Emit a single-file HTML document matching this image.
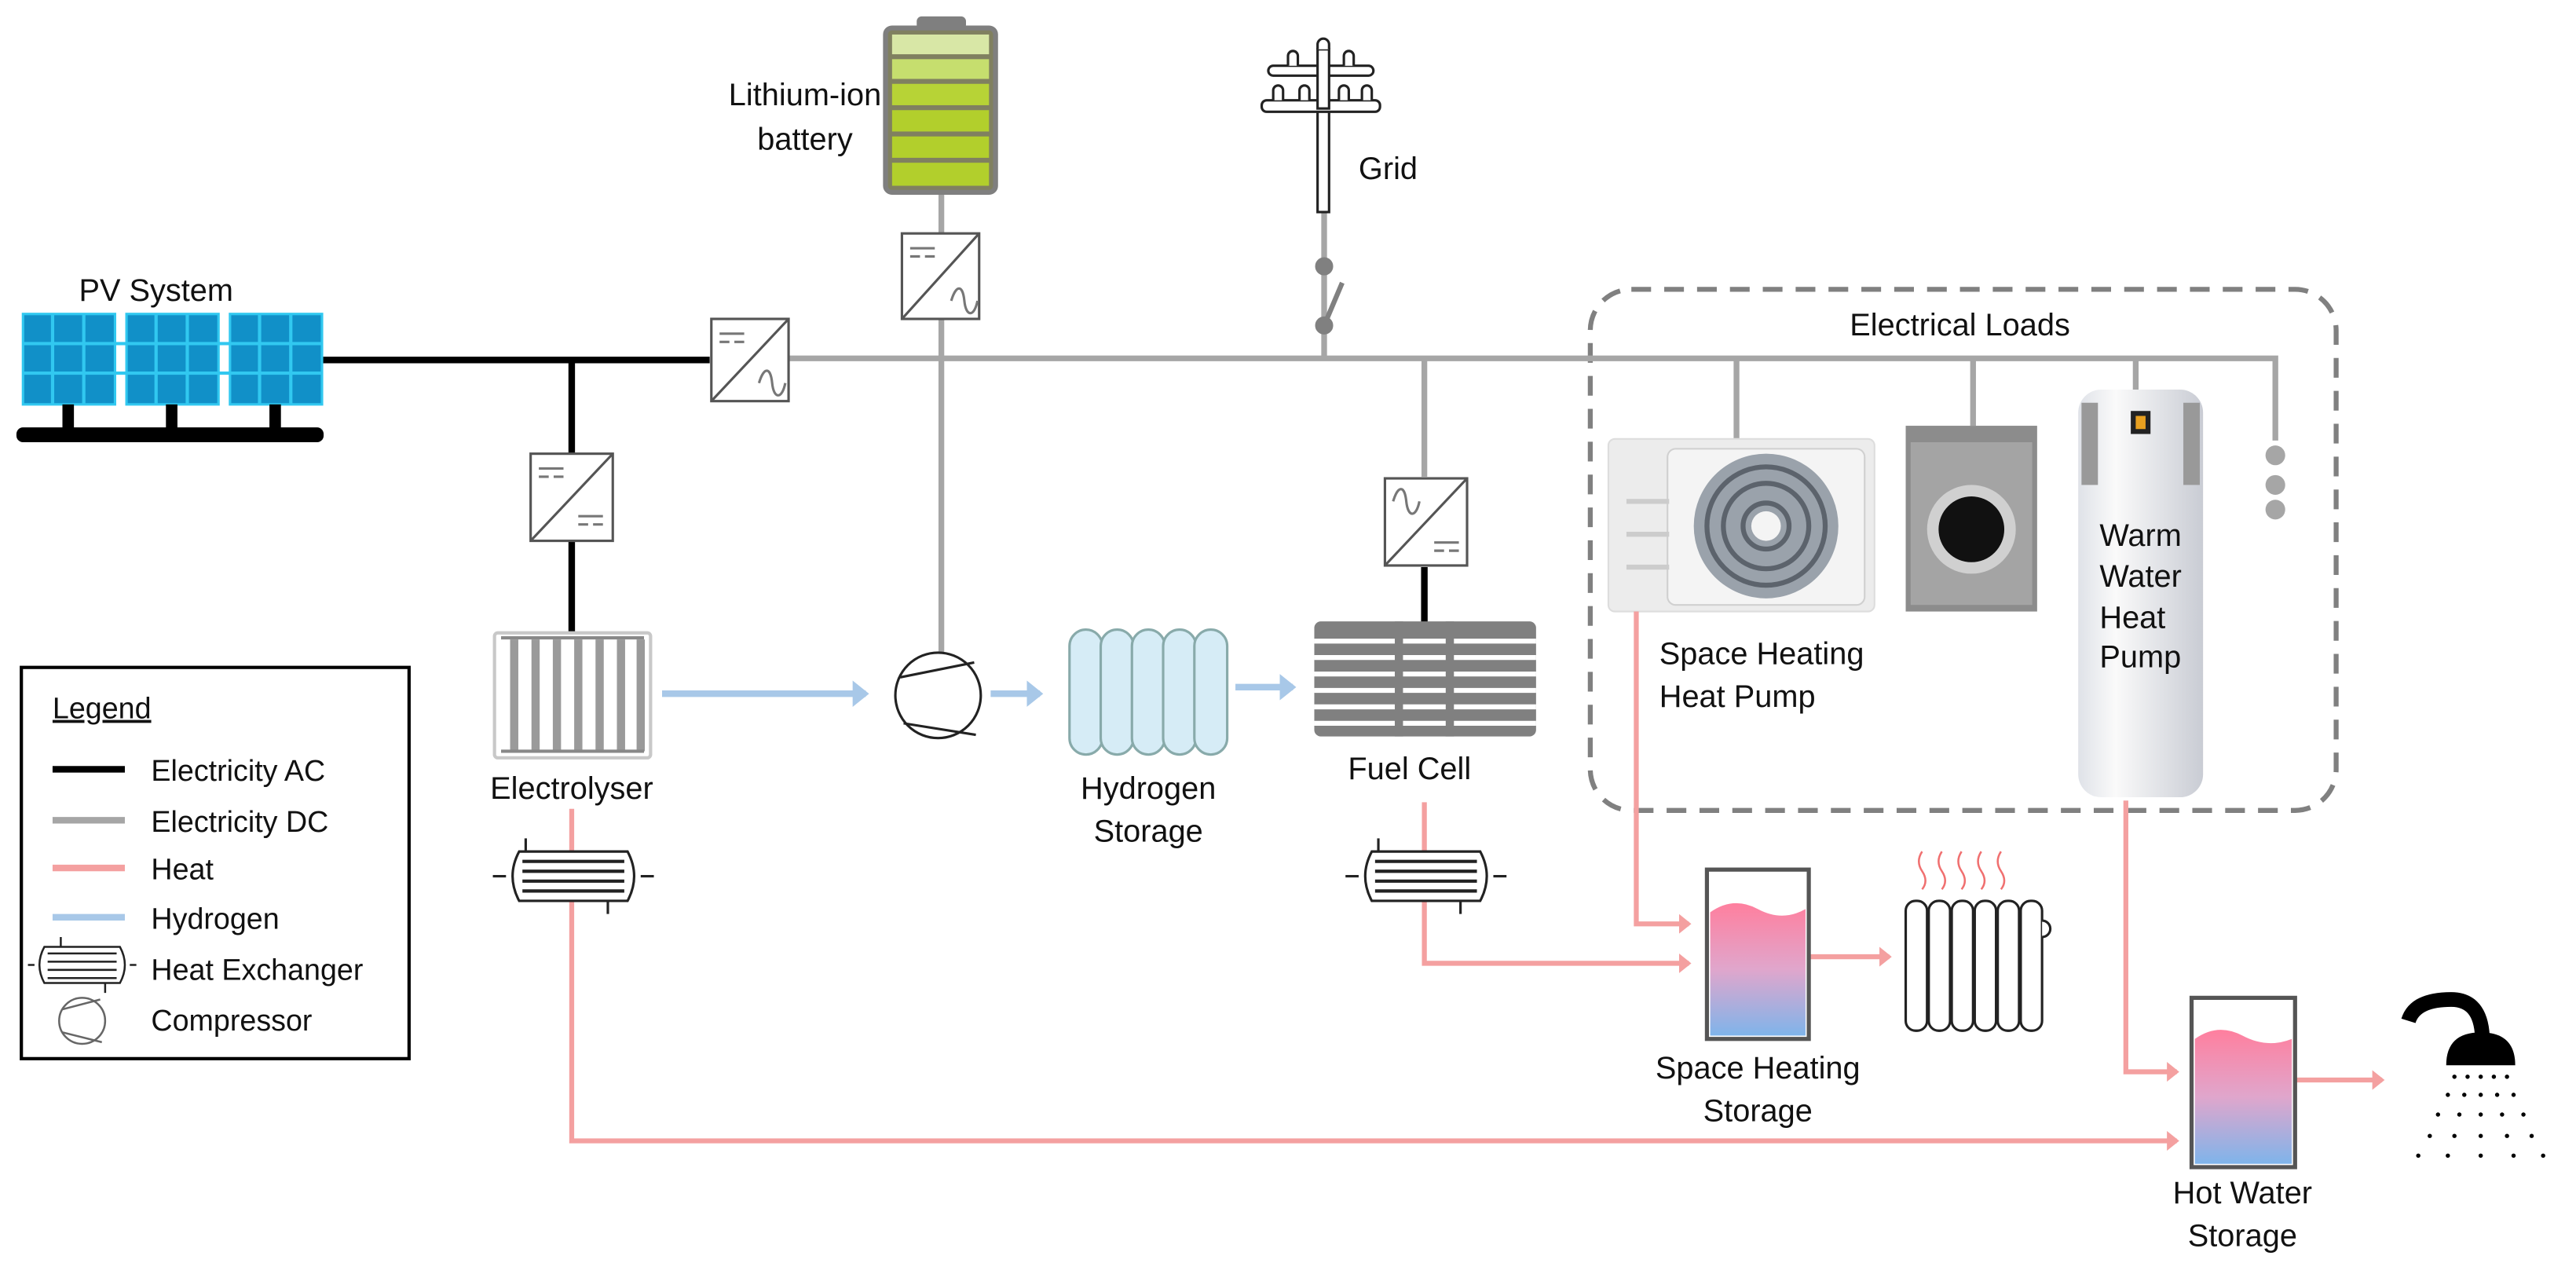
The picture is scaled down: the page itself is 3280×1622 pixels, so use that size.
<!DOCTYPE html>
<html><head><meta charset="utf-8"><style>
html,body{margin:0;padding:0;background:#fff}
svg{display:block}
text{font-family:"Liberation Sans",sans-serif;fill:#111}
</style></head><body>
<svg width="3280" height="1622" viewBox="0 0 1568 775" preserveAspectRatio="none" xmlns="http://www.w3.org/2000/svg">
<defs>
<linearGradient id="tank" x1="0" y1="0" x2="0" y2="1"><stop offset="0" stop-color="#ff7f9e"/><stop offset="0.5" stop-color="#e0a6cc"/><stop offset="1" stop-color="#7fb4ea"/></linearGradient>
<linearGradient id="heater" x1="0" y1="0" x2="1" y2="0"><stop offset="0" stop-color="#dfe2e8"/><stop offset="0.3" stop-color="#fafafa"/><stop offset="1" stop-color="#c9ccd4"/></linearGradient>
<marker id="hA" markerWidth="4" markerHeight="4" refX="2" refY="2" orient="auto" markerUnits="strokeWidth"><path d="M0,0 L2.5,2 L0,4 Z" fill="#f4a0a0"/></marker>
<marker id="bA" markerWidth="4" markerHeight="4" refX="2" refY="2" orient="auto" markerUnits="strokeWidth"><path d="M0,0 L2.5,2 L0,4 Z" fill="#a8c8e8"/></marker>
</defs>

<!-- dashed box -->
<rect x="968" y="176" width="454" height="317" rx="25" fill="none" stroke="#808080" stroke-width="3" stroke-dasharray="12,8"/>
<text x="1193" y="204" font-size="19" text-anchor="middle">Electrical Loads</text>

<!-- DC bus -->
<g stroke="#a6a6a6" stroke-width="3.5" fill="none">
<path d="M480 218 H1385 V268"/>
<path d="M573 117 V400"/>
<path d="M806 129 V218"/>
<path d="M867 218 V290"/>
<path d="M1057 218 V267"/>
<path d="M1201 218 V259"/>
<path d="M1300 218 V238"/>
</g>
<circle cx="1385" cy="277" r="6" fill="#a6a6a6"/><circle cx="1385" cy="295" r="6" fill="#a6a6a6"/><circle cx="1385" cy="310" r="6" fill="#a6a6a6"/>
<!-- switch -->
<g stroke="#808080" fill="#808080"><circle cx="806" cy="162" r="5"/><line x1="806" y1="198" x2="817" y2="172" stroke-width="3"/><circle cx="806" cy="198" r="5"/></g>

<!-- AC lines -->
<g stroke="#000" stroke-width="4" fill="none">
<path d="M190 219 H432"/><path d="M348 219 V276"/><path d="M348 329 V385"/><path d="M867 345 V380"/>
</g>

<!-- PV -->
<g fill="#1190c8" stroke="#31c8f0" stroke-width="1.5">
<rect x="14" y="191" width="56" height="55"/><rect x="77" y="191" width="56" height="55"/><rect x="140" y="191" width="56" height="55"/>
</g>
<g stroke="#31c8f0" stroke-width="2">
<path d="M32 191V246M51 191V246M95 191V246M114 191V246M158 191V246M177 191V246M14 209H196M14 227H196"/>
</g>
<g fill="#000"><rect x="38" y="246" width="7" height="15"/><rect x="101" y="246" width="7" height="15"/><rect x="164" y="246" width="7" height="15"/><rect x="10" y="260" width="187" height="9" rx="4"/></g>
<text x="95" y="183" font-size="19" text-anchor="middle">PV System</text>

<!-- converters -->
<g fill="#fff" stroke="#555" stroke-width="1.5">
<rect x="433" y="194" width="47" height="50"/><line x1="433" y1="244" x2="480" y2="194"/>
<rect x="549" y="142" width="47" height="52"/><line x1="549" y1="194" x2="596" y2="142"/>
<rect x="323" y="276" width="50" height="53"/><line x1="323" y1="329" x2="373" y2="276"/>
<rect x="843" y="291" width="50" height="53"/><line x1="843" y1="344" x2="893" y2="291"/>
</g>
<g stroke="#777" stroke-width="1.5" fill="none">
<path d="M438 203h15M438 208h6M447 208h6M462 233c3-10 7-10 8 0s6 10 8 0"/>
<path d="M554 151h15M554 156h6M563 156h6M579 183c3-10 7-10 8 0s6 10 8 0"/>
<path d="M328 285h15M328 290h6M337 290h6M352 314h15M352 319h6M361 319h6"/>
<path d="M848 305c3-10 7-10 8 0s6 10 8 0M873 330h15M873 335h6M882 335h6"/>
</g>

<!-- battery -->
<rect x="558" y="10" width="30" height="8" rx="3" fill="#7f7f7f"/>
<rect x="539" y="17" width="67" height="100" rx="4" fill="#808060" stroke="#7f7f7f" stroke-width="3"/>
<rect x="543" y="21" width="59" height="12" fill="#d8e7a6"/>
<rect x="543" y="36" width="59" height="12" fill="#c6de6e"/>
<rect x="543" y="51" width="59" height="13" fill="#b7d336"/>
<rect x="543" y="67" width="59" height="13" fill="#b2cf2c"/>
<rect x="543" y="83" width="59" height="13" fill="#b2cf2c"/>
<rect x="543" y="99" width="59" height="14" fill="#b2cf2c"/>
<text x="490" y="64" font-size="19" text-anchor="middle">Lithium-ion</text>
<text x="490" y="91" font-size="19" text-anchor="middle">battery</text>

<!-- grid pole -->
<g fill="#fff" stroke="#222" stroke-width="1.5">
<rect x="802" y="66" width="7" height="63"/>
<rect x="768" y="61" width="72" height="7" rx="3"/>
<rect x="772" y="40" width="64" height="6" rx="3"/>
<rect x="802" y="30" width="7" height="36"/>
<path d="M802 30 v-3 a3.5 3.5 0 0 1 7 0 v3"/>
<path d="M784 40v-6a3 3 0 0 1 6 0v6M818 40v-6a3 3 0 0 1 6 0v6M775 61v-6a3 3 0 0 1 6 0v6M791 61v-6a3 3 0 0 1 6 0v6M815 61v-6a3 3 0 0 1 6 0v6M829 61v-6a3 3 0 0 1 6 0v6"/>
</g>
<text x="827" y="109" font-size="19">Grid</text>

<!-- hydrogen -->
<g stroke="#a8c8e8" stroke-width="4" fill="none">
<line x1="403" y1="422" x2="527" y2="422" marker-end="url(#bA)"/>
<line x1="603" y1="422" x2="633" y2="422" marker-end="url(#bA)"/>
<line x1="752" y1="418" x2="787" y2="418" marker-end="url(#bA)"/>
</g>
<!-- electrolyser -->
<rect x="301" y="385" width="95" height="76" rx="2" fill="#fff" stroke="#c8c8c8" stroke-width="2"/>
<g stroke="#9a9a9a" stroke-width="5"><path d="M313 389v68M326 389v68M339 389v68M352 389v68M365 389v68M378 389v68M390 389v68"/></g>
<path d="M305 388H392M305 457H392" stroke="#888" stroke-width="2"/>
<text x="348" y="486" font-size="19" text-anchor="middle">Electrolyser</text>
<!-- compressor -->
<circle cx="571" cy="423" r="26" fill="#fff" stroke="#222" stroke-width="1.5"/>
<path d="M548 412 L593 403 M550 440 L594 447" stroke="#222" stroke-width="1.5"/>
<!-- tanks -->
<g fill="#d6ecf6" stroke="#8aa" stroke-width="1.5">
<rect x="651" y="383" width="20" height="76" rx="10"/><rect x="670" y="383" width="20" height="76" rx="10"/><rect x="689" y="383" width="20" height="76" rx="10"/><rect x="708" y="383" width="20" height="76" rx="10"/><rect x="727" y="383" width="20" height="76" rx="10"/>
</g>
<text x="699" y="486" font-size="19" text-anchor="middle">Hydrogen</text>
<text x="699" y="512" font-size="19" text-anchor="middle">Storage</text>
<!-- fuel cell -->
<rect x="800" y="378" width="135" height="70" rx="4" fill="#808080"/>
<g stroke="#fff" stroke-width="3"><path d="M800 390H935M800 400H935M800 410H935M800 420H935M800 430H935M800 440H935"/></g>
<rect x="849" y="378" width="5" height="70" fill="#808080"/><rect x="880" y="378" width="5" height="70" fill="#808080"/>
<text x="858" y="474" font-size="19" text-anchor="middle">Fuel Cell</text>

<!-- AC unit -->
<rect x="979" y="267" width="162" height="105" rx="4" fill="#ececec" stroke="#ddd"/>
<rect x="1015" y="273" width="120" height="95" rx="5" fill="#f4f4f4" stroke="#d0d0d0"/>
<circle cx="1075" cy="320" r="44" fill="#9aa2ab"/>
<circle cx="1075" cy="320" r="36" fill="none" stroke="#5c636c" stroke-width="3"/>
<circle cx="1075" cy="320" r="26" fill="none" stroke="#5c636c" stroke-width="3"/>
<circle cx="1075" cy="320" r="14" fill="none" stroke="#5c636c" stroke-width="3"/>
<circle cx="1075" cy="320" r="9" fill="#f4f4f4"/>
<path d="M990 345h26M990 325h26M990 305h26" stroke="#ccc" stroke-width="3"/>
<!-- washer -->
<rect x="1160" y="259" width="80" height="113" fill="#8c8c8c"/>
<rect x="1163" y="269" width="74" height="99" fill="#a4a4a4"/>
<circle cx="1200" cy="322" r="27" fill="#d0d0d0"/><circle cx="1200" cy="322" r="20" fill="#111"/>
<!-- heater -->
<rect x="1265" y="237" width="76" height="248" rx="14" fill="url(#heater)"/>
<rect x="1267" y="245" width="10" height="50" fill="#999"/><rect x="1329" y="245" width="10" height="50" fill="#999"/>
<rect x="1297" y="250" width="12" height="14" fill="#222"/><rect x="1300" y="253" width="6" height="8" fill="#e8a020"/>
<text x="1278" y="332" font-size="19">Warm</text>
<text x="1278" y="357" font-size="19">Water</text>
<text x="1278" y="382" font-size="19">Heat</text>
<text x="1278" y="406" font-size="19">Pump</text>
<text x="1010" y="404" font-size="19">Space Heating</text>
<text x="1010" y="430" font-size="19">Heat Pump</text>

<!-- heat lines -->
<g stroke="#f4a0a0" stroke-width="3" fill="none">
<path d="M348 492 V694 H1325" marker-end="url(#hA)"/>
<path d="M867 488 V586 H1028" marker-end="url(#hA)"/>
<path d="M996 372 V562 H1028" marker-end="url(#hA)"/>
<path d="M1294 487 V652 H1325" marker-end="url(#hA)"/>
<path d="M1101 582 H1150" marker-end="url(#hA)"/>
<path d="M1398 657 H1450" marker-end="url(#hA)"/>
</g>
<!-- heat exchangers -->
<g fill="#fff" stroke="#222" stroke-width="1.5">
<path d="M316 518 H382 Q390 533 382 548 H316 Q308 533 316 518 Z"/>
<path d="M318 524H380M318 530H380M318 536H380M318 542H380" stroke-width="2"/>
<path d="M308 533H300M390 533H398M320 518V510M370 548V556"/>
</g>
<g fill="#fff" stroke="#222" stroke-width="1.5" transform="translate(519,0)">
<path d="M316 518 H382 Q390 533 382 548 H316 Q308 533 316 518 Z"/>
<path d="M318 524H380M318 530H380M318 536H380M318 542H380" stroke-width="2"/>
<path d="M308 533H300M390 533H398M320 518V510M370 548V556"/>
</g>

<!-- space heating storage -->
<rect x="1039" y="529" width="62" height="103" fill="#fff" stroke="#555" stroke-width="2.5"/>
<path d="M1041 555 Q1055 545 1070 553 T1099 553 V630 H1041 Z" fill="url(#tank)"/>
<text x="1070" y="656" font-size="19" text-anchor="middle">Space Heating</text>
<text x="1070" y="682" font-size="19" text-anchor="middle">Storage</text>
<!-- radiator -->
<g fill="#fff" stroke="#222" stroke-width="1.5">
<rect x="1160" y="548" width="13" height="79" rx="6"/><rect x="1174" y="548" width="13" height="79" rx="6"/><rect x="1188" y="548" width="13" height="79" rx="6"/><rect x="1202" y="548" width="13" height="79" rx="6"/><rect x="1216" y="548" width="13" height="79" rx="6"/><rect x="1230" y="548" width="13" height="79" rx="6"/>
<path d="M1243 560 a4 4 0 0 1 0 10"/>
</g>
<g stroke="#f07070" stroke-width="1.2" fill="none">
<path d="M1170 518 q-4 6 0 12 t0 11"/><path d="M1182 518 q-4 6 0 12 t0 11"/><path d="M1194 518 q-4 6 0 12 t0 11"/><path d="M1206 518 q-4 6 0 12 t0 11"/><path d="M1218 518 q-4 6 0 12 t0 11"/>
</g>
<!-- hot water storage -->
<rect x="1334" y="607" width="63" height="103" fill="#fff" stroke="#555" stroke-width="2.5"/>
<path d="M1336 632 Q1350 622 1365 630 T1395 632 V708 H1336 Z" fill="url(#tank)"/>
<text x="1365" y="732" font-size="19" text-anchor="middle">Hot Water</text>
<text x="1365" y="758" font-size="19" text-anchor="middle">Storage</text>
<!-- shower -->
<path d="M1466 621 Q1470 608 1492 608 Q1512 608 1511 636" fill="none" stroke="#000" stroke-width="9"/>
<path d="M1489 648 Q1489 628 1510 628 Q1531 628 1531 648 Z" fill="#000"/>
<g fill="#000">
<circle cx="1494" cy="655" r="1.3"/><circle cx="1502" cy="655" r="1.3"/><circle cx="1510" cy="655" r="1.3"/><circle cx="1518" cy="655" r="1.3"/><circle cx="1526" cy="655" r="1.3"/>
<circle cx="1490" cy="666" r="1.3"/><circle cx="1500" cy="666" r="1.3"/><circle cx="1510" cy="666" r="1.3"/><circle cx="1520" cy="666" r="1.3"/><circle cx="1530" cy="666" r="1.3"/>
<circle cx="1484" cy="678" r="1.3"/><circle cx="1497" cy="678" r="1.3"/><circle cx="1510" cy="678" r="1.3"/><circle cx="1523" cy="678" r="1.3"/><circle cx="1536" cy="678" r="1.3"/>
<circle cx="1479" cy="691" r="1.3"/><circle cx="1494" cy="691" r="1.3"/><circle cx="1510" cy="691" r="1.3"/><circle cx="1526" cy="691" r="1.3"/><circle cx="1541" cy="691" r="1.3"/>
<circle cx="1472" cy="703" r="1.3"/><circle cx="1490" cy="703" r="1.3"/><circle cx="1510" cy="703" r="1.3"/><circle cx="1530" cy="703" r="1.3"/><circle cx="1548" cy="703" r="1.3"/>
</g>

<!-- legend -->
<rect x="13" y="406" width="236" height="238" fill="#fff" stroke="#000" stroke-width="2"/>
<text x="32" y="437" font-size="18" text-decoration="underline">Legend</text>
<g stroke-width="4"><line x1="32" y1="468" x2="76" y2="468" stroke="#000"/><line x1="32" y1="499" x2="76" y2="499" stroke="#a6a6a6"/><line x1="32" y1="528" x2="76" y2="528" stroke="#f4a0a0"/><line x1="32" y1="558" x2="76" y2="558" stroke="#a8c8e8"/></g>
<text x="92" y="475" font-size="18">Electricity AC</text>
<text x="92" y="506" font-size="18">Electricity DC</text>
<text x="92" y="535" font-size="18">Heat</text>
<text x="92" y="565" font-size="18">Hydrogen</text>
<text x="92" y="596" font-size="18">Heat Exchanger</text>
<text x="92" y="627" font-size="18">Compressor</text>
<g fill="#fff" stroke="#222" stroke-width="1.2">
<path d="M27 576 H73 Q79 587 73 598 H27 Q21 587 27 576 Z"/>
<path d="M29 580H71M29 585H71M29 590H71M29 595H71"/>
<path d="M21 587H17M79 587H83M37 576V570M64 598V604"/>
</g>
<circle cx="50" cy="621" r="14" fill="#fff" stroke="#666" stroke-width="1.2"/>
<path d="M38 614 L61 608 M38 628 L62 634" stroke="#666" stroke-width="1.2"/>
</svg>
</body></html>
